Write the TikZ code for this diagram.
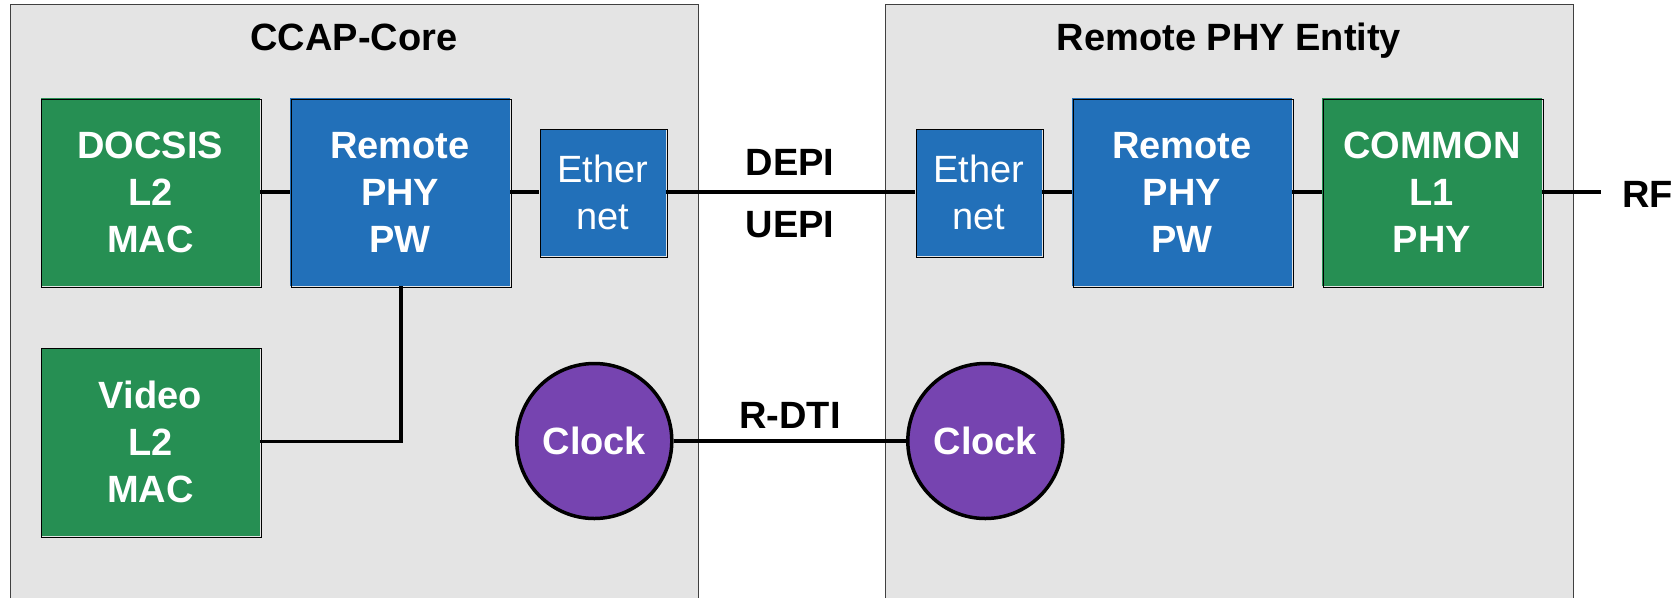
\documentclass[tikz,border=0pt]{standalone}
\usepackage{fontspec}
\setmainfont{Liberation Sans}
\definecolor{bxgreen}{RGB}{38,143,83}
\definecolor{bxblue}{RGB}{34,112,185}
\definecolor{bxpurple}{RGB}{118,68,176}
\definecolor{panelgrey}{RGB}{228,228,228}
\tikzset{
  big/.style={font=\fontsize{38}{47}\selectfont\bfseries},
  boxbase/.style={inner sep=0pt, align=center, text=white, big},
  gbox/.style={boxbase, fill=bxgreen, minimum width=219.5pt, minimum height=188pt},
  bbox/.style={boxbase, fill=bxblue, minimum width=219.5pt, minimum height=188pt},
  ebox/.style={inner sep=0pt, align=center, text=white, fill=bxblue,
     font=\fontsize{38}{47}\selectfont, minimum width=126pt, minimum height=127pt},
  clk/.style={boxbase, circle, fill=bxpurple, draw=black, line width=3.5pt, minimum size=155pt},
  conn/.style={draw=black, line width=3.3pt},
  outline/.style={draw=black, line width=0.9pt},
  panel/.style={fill=panelgrey},
  paneledge/.style={draw=black!75, line width=1pt},
  lbl/.style={big, text=black, inner sep=0pt, anchor=base}
}
\begin{document}
\begin{tikzpicture}[x=1pt,y=-1pt]
\useasboundingbox (0,0) rectangle (1677,598);
% panels
\fill[panel] (10,4.7) rectangle (698,598);
\draw[paneledge] (10,598) -- (10,4.7) -- (698,4.7) -- (698,598);
\fill[panel] (885,4.7) rectangle (1573,598);
\draw[paneledge] (885,598) -- (885,4.7) -- (1573,4.7) -- (1573,598);
\node[lbl] (t1) at (354,50) {CCAP-Core};
\node[lbl] (t2) at (1229,50) {Remote PHY Entity};
% boxes
\node[gbox] (docsis) at (150.3,192) {DOCSIS\\L2\\MAC};
\node[bbox] (rpwl) at (400.1,192) {Remote\\PHY\\PW};
\node[ebox] (ethl) at (602.6,192) {Ether\\net};
\node[ebox] (ethr) at (978.5,192) {Ether\\net};
\node[bbox] (rpwr) at (1181.8,192) {Remote\\PHY\\PW};
\node[gbox] (common) at (1431.8,192) {COMMON\\L1\\PHY};
\node[gbox] (video) at (150.3,441.8) {Video\\L2\\MAC};
\coordinate (rfend) at ([xshift=59.4pt]common.east);
\node[lbl, anchor=base west] (rf) at (1622,207) {RF};
\node[lbl] (depi) at (790,175) {DEPI};
\node[lbl] (uepi) at (790,237) {UEPI};
\node[lbl] (rdti) at (790,428) {R-DTI};
% connectors
\begin{scope}[yshift=-0.7pt]
\draw[conn] (docsis.east) -- (rpwl.west);
\draw[conn] (rpwl.east) -- (ethl.west);
\draw[conn] (ethl.east) -- (ethr.west);
\draw[conn] (ethr.east) -- (rpwr.west);
\draw[conn] (rpwr.east) -- (common.west);
\draw[conn] (common.east) -- (rfend);
\end{scope}
\draw[conn] ([xshift=1pt]rpwl.south) -- ([xshift=1pt]rpwl.south |- video.east) -- (video.east);
% box outlines (offset)
\foreach \n in {docsis,rpwl,ethl,ethr,rpwr,common,video}{
  \draw[outline] ([shift={(1.3,1.3)}]\n.north west) rectangle ([shift={(1.3,1.3)}]\n.south east);
}
% clocks
\node[clk] (clkl) at (594.3,441) {Clock};
\node[clk] (clkr) at (985.3,441) {Clock};
\draw[conn] (clkl.east) -- (clkr.west);
\end{tikzpicture}
\end{document}
